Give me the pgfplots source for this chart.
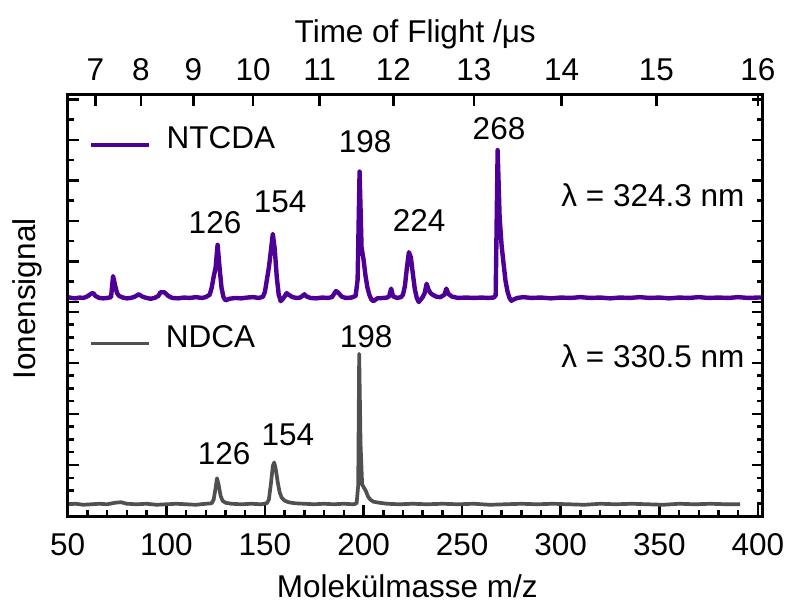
\documentclass[border=0pt]{standalone}
\usepackage{fontspec}
\setmainfont{Liberation Sans}
\usepackage{pgfplots}
\pgfplotsset{compat=1.18}
\definecolor{ntc}{RGB}{78,0,150}
\definecolor{ndc}{RGB}{80,80,80}
\begin{document}
\begin{tikzpicture}
\pgfplotsset{
  every axis/.append style={
    /pgf/number format/assume math mode=true,
    font=\fontsize{31.5}{36}\selectfont,
    scale only axis, width=695pt,
    xmin=50, xmax=402.4,
    axis line style={draw=none},
    tick style={line width=2.5pt, black},
    major tick length=11pt, minor tick length=6pt,
    tick align=inside,
    clip=false,
    legend style={draw=none, fill=none, inner sep=0pt, outer sep=0pt, column sep=0pt,
      nodes={inner sep=0pt, anchor=base west}},
    legend image code/.code={\draw[#1] (0pt,0.36em) -- (58pt,0.36em); \path (73pt,0pt);},
  }
}
\path[use as bounding box] (-67.7pt,-87pt) rectangle (720.3pt,516pt);
% ---------------- lower panel: NDCA
\begin{axis}[at={(0pt,0pt)}, anchor=south west, height=214pt,
  ymin=0, ymax=4.196, ytick={0,1,2,3,4}, minor y tick num=3, yticklabels={}, ytick pos=both,
  xtick={50,100,...,400}, minor x tick num=4, xtick pos=bottom,
  xticklabel style={anchor=base, yshift=-39pt},
  xlabel={Molekülmasse m/z},
  xlabel style={at={(axis description cs:0.5,0)}, anchor=base, yshift=-81pt, xshift=-8pt},
  legend style={at={(rel axis cs:0.031,0.836)}, anchor=west},
]
\addplot[ndc, line width=3.7pt, line join=round] coordinates {
(50,0.23)(54,0.24)(58,0.22)(62,0.23)(66,0.24)(70,0.23)(74,0.26)(77,0.27)(80,0.24)(85,0.23)(90,0.24)(95,0.22)(100,0.23)(105,0.24)(110,0.23)(115,0.22)(120,0.24)(123,0.25)(124,0.32)(125,0.55)(125.7,0.74)(126.5,0.62)(127.5,0.40)(128.5,0.30)(130,0.26)(133,0.24)(138,0.23)(143,0.24)(148,0.23)(151,0.25)(152,0.32)(153,0.62)(154,0.98)(154.7,1.05)(155.5,0.92)(156.5,0.66)(157.5,0.46)(158.5,0.36)(160,0.30)(162,0.27)(165,0.25)(170,0.24)(175,0.23)(180,0.24)(185,0.23)(190,0.24)(195,0.23)(196.5,0.25)(197.3,0.6)(197.8,3.18)(198.5,1.4)(199.3,0.62)(200.3,0.55)(201.3,0.48)(202.3,0.38)(203.5,0.32)(205,0.28)(208,0.26)(212,0.24)(218,0.23)(225,0.24)(232,0.23)(240,0.24)(248,0.23)(256,0.24)(264,0.22)(272,0.23)(280,0.24)(288,0.23)(296,0.24)(304,0.23)(312,0.22)(320,0.24)(328,0.23)(336,0.24)(344,0.23)(352,0.22)(360,0.24)(368,0.23)(376,0.24)(384,0.23)(391,0.23)
};
\addlegendentry{NDCA}
\draw[line width=3pt] (rel axis cs:0,1) -- (rel axis cs:0,0) -- (rel axis cs:1,0) -- (rel axis cs:1,1);
\node[anchor=base] at (axis cs:201.3,3.31) {198};
\node[anchor=base] at (axis cs:161.7,1.39) {154};
\node[anchor=base] at (axis cs:129.3,1.0) {126};
\node[anchor=base east] at (axis cs:394.9,2.92) {λ = 330.5 nm};
\end{axis}
% ---------------- upper panel: NTCDA
\begin{axis}[at={(0pt,214pt)}, anchor=south west, height=207pt,
  ymin=0, ymax=5.111, ytick={0,1,2,3,4,5}, minor y tick num=1, yticklabels={}, ytick pos=both,
  xtick={64,87.11,113.78,144,177.78,215.11,256,300.44,348.44,400},
  xticklabels={7,8,9,10,11,12,13,14,15,16},
  xtick pos=top, xticklabel pos=top,
  xticklabel style={anchor=base, yshift=14pt},
  xlabel={Time of Flight /μs},
  xlabel style={at={(axis description cs:0.5,1)}, anchor=base, yshift=52pt},
  legend style={at={(rel axis cs:0.031,0.788)}, anchor=west},
]
\addplot[ntc, line width=4.4pt, line join=round] coordinates {
(50,0.12)(52,0.10)(54,0.09)(56,0.11)(58,0.10)(60,0.14)(62,0.21)(63,0.22)(64,0.15)(66,0.10)(68,0.09)(70,0.10)(72,0.12)(73,0.64)(74,0.42)(75,0.22)(76,0.15)(78,0.11)(80,0.09)(82,0.10)(84,0.13)(86,0.19)(88,0.13)(90,0.10)(92,0.08)(94,0.10)(96,0.15)(97,0.24)(99,0.24)(101,0.15)(103,0.10)(106,0.09)(109,0.11)(112,0.10)(115,0.12)(118,0.10)(120,0.12)(122,0.18)(123,0.35)(124,0.62)(125,0.85)(126,1.41)(127,0.85)(128,0.35)(129,0.12)(130,0.04)(132,0.08)(135,0.10)(138,0.09)(141,0.11)(144,0.12)(147,0.10)(149,0.13)(150,0.25)(151,0.55)(152,0.85)(153,1.25)(154,1.68)(155,1.30)(156,0.62)(157,0.18)(158,0.02)(159,0.07)(160,0.14)(161,0.22)(162,0.18)(164,0.12)(166,0.10)(168,0.11)(170,0.19)(171,0.14)(173,0.10)(176,0.09)(179,0.11)(182,0.10)(184,0.12)(186,0.27)(187,0.24)(189,0.13)(191,0.10)(194,0.11)(196,0.15)(197,0.55)(198,3.22)(199,1.35)(200,1.05)(201,0.65)(202,0.35)(203,0.17)(204,0.06)(205,0.02)(207,0.09)(210,0.10)(212,0.11)(213,0.14)(214,0.33)(215,0.14)(217,0.10)(219,0.12)(220,0.18)(221,0.40)(222,0.85)(223,1.23)(224,1.10)(225,0.70)(226,0.32)(227,0.10)(228,0.0)(229,0.06)(230,0.12)(231,0.22)(232,0.45)(233,0.30)(234,0.22)(235,0.18)(237,0.13)(239,0.12)(241,0.18)(242,0.33)(243,0.20)(245,0.13)(248,0.10)(252,0.11)(256,0.10)(260,0.11)(263,0.10)(266,0.11)(267,0.16)(268,3.75)(269,2.10)(270,1.40)(271,0.95)(272,0.52)(273,0.26)(274,0.10)(275,0.03)(276,0.06)(278,0.10)(281,0.12)(285,0.10)(290,0.11)(295,0.09)(300,0.11)(305,0.10)(310,0.12)(315,0.10)(320,0.11)(325,0.09)(330,0.11)(335,0.10)(340,0.12)(345,0.10)(350,0.11)(355,0.09)(360,0.11)(365,0.10)(370,0.12)(375,0.10)(380,0.11)(385,0.10)(390,0.12)(395,0.10)(400,0.11)(402.4,0.11)
};
\addlegendentry{NTCDA}
\draw[line width=3pt] (rel axis cs:0,0) -- (rel axis cs:0,1) -- (rel axis cs:1,1) -- (rel axis cs:1,0);
\node[anchor=base] at (axis cs:124.7,1.70) {126};
\node[anchor=base] at (axis cs:157.7,2.22) {154};
\node[anchor=base] at (axis cs:200.8,3.70) {198};
\node[anchor=base] at (axis cs:228.2,1.73) {224};
\node[anchor=base] at (axis cs:268.7,4.00) {268};
\node[anchor=base east] at (axis cs:394.9,2.35) {λ = 324.3 nm};
\end{axis}
\node[rotate=90, anchor=base, font=\fontsize{31.5}{36}\selectfont] at (-31.7pt,217pt) {Ionensignal};
\end{tikzpicture}
\end{document}
